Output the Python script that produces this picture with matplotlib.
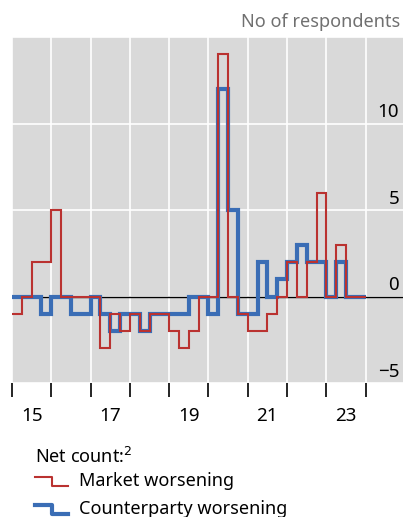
import numpy as np
import matplotlib
matplotlib.use('Agg')
import matplotlib.pyplot as plt
from matplotlib.lines import Line2D

plt.rcParams['font.family'] = ['Noto Sans', 'DejaVu Sans']

# quarterly net counts, 2015Q1 .. 2023Q4
start_year = 2015
market = [-1, 0, 2, 2, 5, 0, 0, 0, 0, -3, -1, -2, -1, -2, -1, -1, -2, -3,
          -2, 0, 0, 14, 0, -1, -2, -2, -1, 0, 2, 0, 2, 6, 0, 3, 0, 0]
counterparty = [0, 0, 0, -1, 0, 0, -1, -1, 0, -1, -2, -1, -1, -2, -1, -1, -1, -1,
                0, 0, -1, 12, 5, -1, -1, 2, 0, 1, 2, 3, 2, 2, 0, 2, 0, 0]
year_labels = ['15', '17', '19', '21', '23']
y_labels = [-5, 0, 5, 10]

red = '#ba3230'
blue = '#3a6db5'

fig = plt.figure(figsize=(4.03, 5.17), dpi=100)
ax = fig.add_axes([12 / 403, 1 - 383 / 517, 1 - 12 / 403, (383 - 37) / 517])
ax.set_facecolor('#d9d9d9')

edges = start_year + np.arange(len(market) + 1) / 4
ax.stairs(counterparty, edges, baseline=None, color=blue, lw=3, zorder=3)
ax.stairs(market, edges, baseline=None, color=red, lw=1.5, zorder=4)
ax.axhline(0, color='black', lw=1, zorder=2)

ax.set_xlim(2015, 2024.95)
ax.set_ylim(-5, 15)

years = np.arange(2015, 2025)
ax.set_xticks(years)
ax.set_xticklabels([])
ax.set_xticks([int('20' + s) + 0.5 for s in year_labels], minor=True)
ax.set_xticklabels(year_labels, minor=True, fontsize=13.5)
ax.tick_params(axis='x', which='major', length=10, width=1.2, color='black', direction='out')
ax.tick_params(axis='x', which='minor', length=0, pad=17)
ax.set_yticks([-5, 0, 5, 10, 15])
ax.set_yticklabels([])
ax.tick_params(axis='y', length=0)
ax.grid(True, color='white', lw=1.2, zorder=1)
ax.set_axisbelow(True)
for s in ax.spines.values():
    s.set_visible(False)

for v in y_labels:
    lab = str(v) if v >= 0 else '\u2212' + str(-v)
    ax.text(0.99, v + 0.12, lab, transform=ax.get_yaxis_transform(),
            ha='right', va='bottom', fontsize=13.5)

fig.text(400 / 403, 1 - 22 / 517, 'No of respondents', ha='right', va='center',
         fontsize=13, color='#707070')

# legend
fig.text(35 / 403, 1 - 457 / 517, 'Net count:$^2$', ha='left', va='center', fontsize=13)
for (yt, col, lw, name) in [(481, red, 1.5, 'Market worsening'),
                            (509, blue, 3, 'Counterparty worsening')]:
    xs = np.array([35, 52, 52, 68]) / 403
    ys = 1 - np.array([yt - 4.5, yt - 4.5, yt + 4.5, yt + 4.5]) / 517
    fig.add_artist(Line2D(xs, ys, color=col, lw=lw))
    fig.text(79 / 403, 1 - yt / 517, name, ha='left', va='center', fontsize=13)

fig.savefig('out.png', dpi=100)
